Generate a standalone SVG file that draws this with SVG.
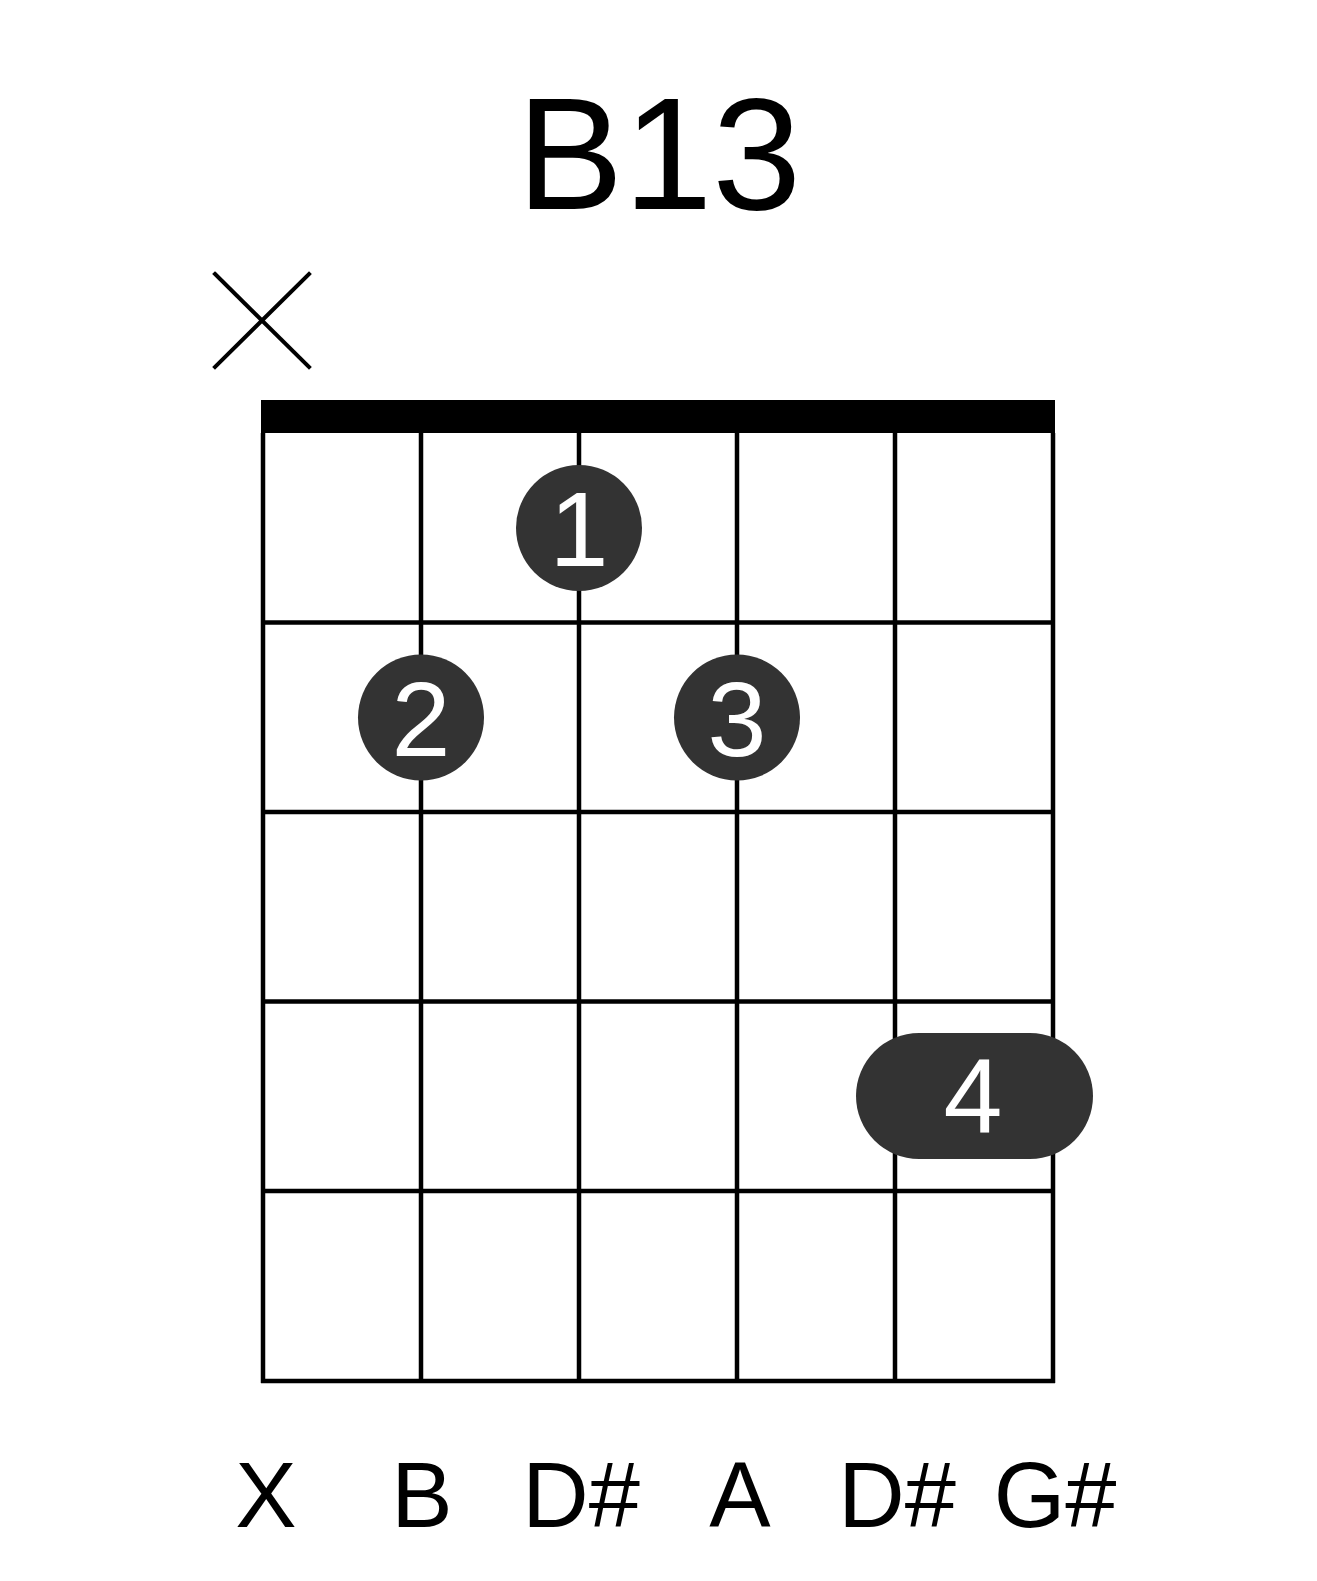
<svg xmlns="http://www.w3.org/2000/svg" width="1317" height="1581" viewBox="0 0 1317 1581">
  <style>
    .ln{stroke:#000;stroke-width:4.5;fill:none}
    .x{stroke:#000;stroke-width:4;stroke-linecap:square}
    .dot{fill:#333333}
    .fn{font-family:"Liberation Sans",Arial,sans-serif;fill:#fff;font-size:106px;text-anchor:middle}
    .lb{font-family:"Liberation Sans",Arial,sans-serif;fill:#000;font-size:92px;text-anchor:middle}
  </style>
  <rect width="1317" height="1581" fill="#fff"/>
  <text id="title" x="659" y="209" font-family="Liberation Sans, Arial, sans-serif" font-size="160" text-anchor="middle" fill="#000">B13</text>
  <g id="mute">
    <line class="x" x1="215" y1="274" x2="309" y2="367"/>
    <line class="x" x1="309" y1="274" x2="215" y2="367"/>
  </g>
  <g id="grid">
    <rect id="nut" x="261" y="400" width="794" height="33" fill="#000"/>
    <line class="ln" x1="263" y1="433" x2="263" y2="1383"/>
    <line class="ln" x1="421" y1="433" x2="421" y2="1383"/>
    <line class="ln" x1="579" y1="433" x2="579" y2="1383"/>
    <line class="ln" x1="737" y1="433" x2="737" y2="1383"/>
    <line class="ln" x1="895" y1="433" x2="895" y2="1383"/>
    <line class="ln" x1="1053" y1="433" x2="1053" y2="1383"/>
    <line class="ln" x1="261" y1="622.5" x2="1055" y2="622.5"/>
    <line class="ln" x1="261" y1="812" x2="1055" y2="812"/>
    <line class="ln" x1="261" y1="1001.5" x2="1055" y2="1001.5"/>
    <line class="ln" x1="261" y1="1191" x2="1055" y2="1191"/>
    <line class="ln" x1="261" y1="1381" x2="1055" y2="1381"/>
  </g>
  <g id="finger1">
    <circle class="dot" cx="579" cy="528" r="63"/>
    <text class="fn" x="579" y="566">1</text>
  </g>
  <g id="finger2">
    <circle class="dot" cx="421" cy="717.5" r="63"/>
    <text class="fn" x="421" y="755.5">2</text>
  </g>
  <g id="finger3">
    <circle class="dot" cx="737" cy="717.5" r="63"/>
    <text class="fn" x="737" y="755.5">3</text>
  </g>
  <g id="finger4">
    <rect class="dot" x="856" y="1033" width="237" height="126" rx="63" ry="63"/>
    <text class="fn" x="973" y="1133">4</text>
  </g>
  <g id="labels">
    <text class="lb" x="266" y="1527">X</text>
    <text class="lb" x="422" y="1527">B</text>
    <text class="lb" x="581" y="1527">D#</text>
    <text class="lb" x="740" y="1527">A</text>
    <text class="lb" x="897" y="1527">D#</text>
    <text class="lb" x="1055" y="1527">G#</text>
  </g>
</svg>
